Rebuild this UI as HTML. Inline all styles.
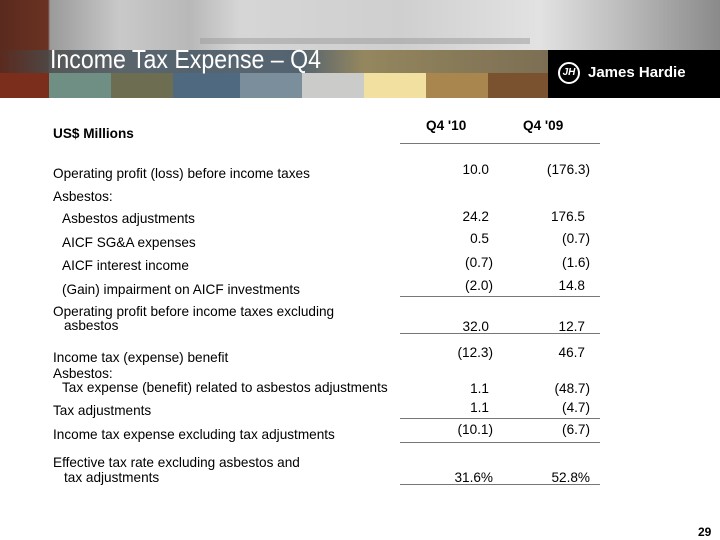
<!DOCTYPE html>
<html><head><meta charset="utf-8"><style>
body{margin:0;width:720px;height:540px;background:#fff;position:relative;overflow:hidden;font-family:"Liberation Sans",Arial,sans-serif;color:#000}
.a{position:absolute;font-size:13.6px;line-height:16px;white-space:nowrap}
.r{text-align:right}
.ln{position:absolute;left:400px;width:200px;height:1px;background:#777}
.s{position:absolute;top:73px;height:25px}
</style></head><body>
<div style="position:absolute;left:0;top:0;width:720px;height:98px;background:linear-gradient(90deg,#5a2a1e 0,#6a3222 48px,#9a9a9a 50px,#c9c9c9 120px,#b8b8b8 190px,#d6d6d6 240px,#cfcfcf 400px,#e2e2e2 540px,#bdbdbd 620px,#8a8a8a 720px)"></div>
<div style="position:absolute;left:200px;top:38px;width:330px;height:6px;background:#999;opacity:.5"></div>
<div style="position:absolute;left:0;top:50px;width:548px;height:23px;background:linear-gradient(90deg,#5a2a1e 0,#4a4a4a 49px,#455560 150px,#3d4f5e 300px,#8a7a4a 364px,#6a5a3a 548px);opacity:.85"></div>
<div class="s" style="left:0;width:49px;background:#7b2e1c"></div>
<div class="s" style="left:49px;width:62px;background:#6f8f84"></div>
<div class="s" style="left:111px;width:62px;background:#6d6d52"></div>
<div class="s" style="left:173px;width:67px;background:#4f6a80"></div>
<div class="s" style="left:240px;width:62px;background:#7a8f9b"></div>
<div class="s" style="left:302px;width:62px;background:#cbcbca"></div>
<div class="s" style="left:364px;width:62px;background:#f2e0a0"></div>
<div class="s" style="left:426px;width:62px;background:#a8864e"></div>
<div class="s" style="left:488px;width:60px;background:#7a5230"></div>
<div style="position:absolute;left:548px;top:50px;width:172px;height:48px;background:#000"></div>
<div style="position:absolute;left:558px;top:62px;width:22px;height:22px;border:2px solid #fff;border-radius:50%;box-sizing:border-box;color:#fff;font:italic bold 10px 'Liberation Sans',sans-serif;text-align:center;line-height:18px">JH</div>
<div class="a" style="left:588px;top:65px;color:#fff;font-weight:bold;font-size:15px">James Hardie</div>
<div class="a" style="left:50px;top:43px;color:#fff;font-size:26px;line-height:32px;transform:scaleX(.89);transform-origin:left">Income Tax Expense – Q4</div>

<div class="a" style="left:53px;top:126px;font-weight:bold">US$ Millions</div>
<div class="a" style="left:426px;top:118px;font-weight:bold">Q4 '10</div>
<div class="a" style="left:523px;top:118px;font-weight:bold">Q4 '09</div>
<div class="ln" style="top:143px"></div>

<div class="a" style="left:53px;top:166px">Operating profit (loss) before income taxes</div>
<div class="a" style="left:53px;top:189px">Asbestos:</div>
<div class="a" style="left:62px;top:211px">Asbestos adjustments</div>
<div class="a" style="left:62px;top:235px">AICF SG&amp;A expenses</div>
<div class="a" style="left:62px;top:258px">AICF interest income</div>
<div class="a" style="left:62px;top:282px">(Gain) impairment on AICF investments</div>
<div class="ln" style="top:296px"></div>
<div class="a" style="left:53px;top:304px">Operating profit before income taxes excluding</div>
<div class="a" style="left:64px;top:318px">asbestos</div>
<div class="ln" style="top:333px"></div>
<div class="a" style="left:53px;top:350px">Income tax (expense) benefit</div>
<div class="a" style="left:53px;top:366px">Asbestos:</div>
<div class="a" style="left:62px;top:380px">Tax expense (benefit) related to asbestos adjustments</div>
<div class="a" style="left:53px;top:403px">Tax adjustments</div>
<div class="ln" style="top:418px"></div>
<div class="a" style="left:53px;top:427px">Income tax expense excluding tax adjustments</div>
<div class="ln" style="top:442px"></div>
<div class="a" style="left:53px;top:455px">Effective tax rate excluding asbestos and</div>
<div class="a" style="left:64px;top:470px">tax adjustments</div>
<div class="ln" style="top:484px"></div>

<div class="a r" style="right:231px;top:162px">10.0</div>
<div class="a r" style="right:231px;top:209px">24.2</div>
<div class="a r" style="right:231px;top:231px">0.5</div>
<div class="a r" style="right:227px;top:255px">(0.7)</div>
<div class="a r" style="right:227px;top:278px">(2.0)</div>
<div class="a r" style="right:231px;top:319px">32.0</div>
<div class="a r" style="right:227px;top:345px">(12.3)</div>
<div class="a r" style="right:231px;top:381px">1.1</div>
<div class="a r" style="right:231px;top:400px">1.1</div>
<div class="a r" style="right:227px;top:422px">(10.1)</div>
<div class="a r" style="right:227px;top:470px">31.6%</div>

<div class="a r" style="right:130px;top:162px">(176.3)</div>
<div class="a r" style="right:135px;top:209px">176.5</div>
<div class="a r" style="right:130px;top:231px">(0.7)</div>
<div class="a r" style="right:130px;top:255px">(1.6)</div>
<div class="a r" style="right:135px;top:278px">14.8</div>
<div class="a r" style="right:135px;top:319px">12.7</div>
<div class="a r" style="right:135px;top:345px">46.7</div>
<div class="a r" style="right:130px;top:381px">(48.7)</div>
<div class="a r" style="right:130px;top:400px">(4.7)</div>
<div class="a r" style="right:130px;top:422px">(6.7)</div>
<div class="a r" style="right:130px;top:470px">52.8%</div>

<div class="a" style="left:698px;top:524px;font-weight:bold;font-size:12px">29</div>
</body></html>
